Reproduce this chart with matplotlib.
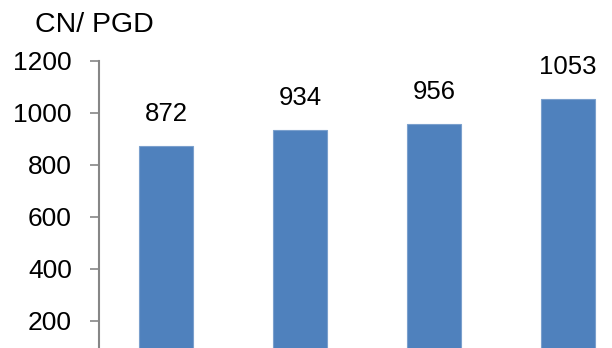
import matplotlib
matplotlib.use("Agg")
import matplotlib.pyplot as plt

# chart data
categories = ["A", "B", "C", "D"]
values = [872, 934, 956, 1053]
yticks = [200, 400, 600, 800, 1000, 1200]

plt.rcParams["font.family"] = ["Liberation Sans", "DejaVu Sans"]

fig = plt.figure(figsize=(6.12, 3.48), dpi=100)
# axes runs off the bottom and right edge, like the cropped original
ax = fig.add_axes([99 / 612, 0.0, 536 / 612, (348 - 61) / 348])

x = range(len(categories))
bars = ax.bar(x, values, width=0.4, color="#4F81BD", edgecolor="#7BA0CD", linewidth=0.8)

for xi, v in zip(x, values):
    ax.annotate(str(v), (xi, v), xytext=(0, 23), textcoords="offset points",
                ha="center", va="center", fontsize=18.5)

ax.set_xlim(-0.5, 3.5)
ax.set_ylim(96, 1200)
ax.set_yticks(yticks)
ax.set_xticks([])
ax.tick_params(axis="y", labelsize=19, length=6.5, width=1.2, color="#868686", pad=13)

for s in ["top", "right", "bottom"]:
    ax.spines[s].set_visible(False)
ax.spines["left"].set_color("#868686")
ax.spines["left"].set_linewidth(1.5)

fig.text(35 / 612, 1 - 25 / 348, "CN/ PGD", fontsize=20.5, ha="left", va="center")

fig.savefig("out.png", dpi=100)
